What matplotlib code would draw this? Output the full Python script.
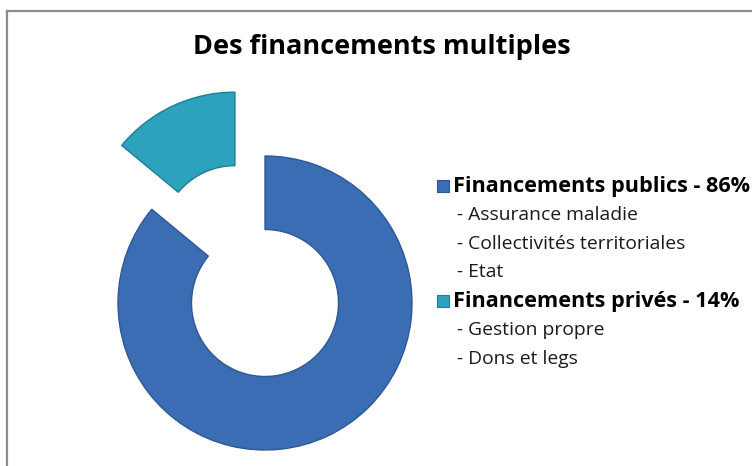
import matplotlib.pyplot as plt
from matplotlib.patches import Rectangle

categories = ["Financements publics", "Financements privés"]
shares = [86, 14]
sub_items = [["Assurance maladie", "Collectivités territoriales", "Etat"],
             ["Gestion propre", "Dons et legs"]]
colors = ["#3A6DB4", "#2CA2BC"]
edges = ["#2D5893", "#1F7F95"]

plt.rcParams['font.family'] = ['Open Sans', 'DejaVu Sans']

W, H = 752, 466
fig = plt.figure(figsize=(W / 100, H / 100), dpi=100)

# cadre gris (gauche + haut)
fig.add_artist(plt.Line2D([6.5 / W, 6.5 / W], [0, 1 - 10.5 / H], color="#8c8c8c", lw=1.6))
fig.add_artist(plt.Line2D([6.5 / W, 1], [1 - 10.5 / H, 1 - 10.5 / H], color="#8c8c8c", lw=1.6))

fig.text(382 / W, 1 - 47 / H, "Des financements multiples", ha="center", va="center",
         fontsize=19.5, fontweight="bold", color="black")

# donut
cx, cy, box = 265, 303, 400
ax = fig.add_axes([(cx - box / 2) / W, (H - cy - box / 2) / H, box / W, box / H])
wedges, _ = ax.pie(shares, colors=colors, startangle=90, counterclock=False,
                   explode=[0, 0.48], radius=1,
                   wedgeprops=dict(width=0.5, linewidth=1.0))
for w, e in zip(wedges, edges):
    w.set_edgecolor(e)
lim = box / 2 / 147
ax.set_xlim(-lim, lim)
ax.set_ylim(-lim, lim)
ax.axis("off")

# légende
y = 186
step = 28.8
for cat, val, subs, c, e in zip(categories, shares, sub_items, colors, edges):
    fig.add_artist(Rectangle((437 / W, 1 - (y + 6) / H), 12 / W, 12 / H,
                             facecolor=c, edgecolor=e, lw=0.8))
    fig.text(453 / W, 1 - y / H, f"{cat} - {val}%", ha="left", va="center",
             fontsize=15.6, fontweight="bold", color="black")
    y += step
    for s in subs:
        fig.text(457 / W, 1 - y / H, f"- {s}", ha="left", va="center",
                 fontsize=13.9, color="#1a1a1a")
        y += step

fig.savefig("out.png", dpi=100)
